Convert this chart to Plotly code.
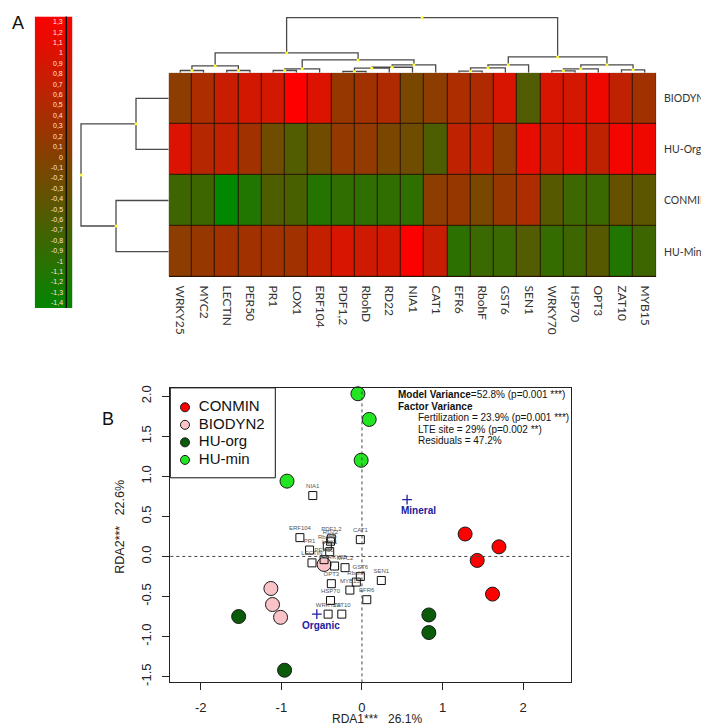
import plotly.graph_objects as go

W, H = 709, 726

# ---------------- Panel A data ----------------
genes = ["WRKY25", "MYC2", "LECTIN", "PER50", "PR1", "LOX1", "ERF104", "PDF1,2",
         "RbohD", "RD22", "NIA1", "CAT1", "EFR6", "RbohF", "GST6", "SEN1",
         "WRKY70", "HSP70", "OPT3", "ZAT10", "MYB15"]
treatments = ["BIODYN2", "HU-Org", "CONMIN", "HU-Min"]
z_biodyn2 = [0.10, 0.44, 0.77, 0.88, 0.88, 1.38, 0.99, 0.21, 0.33, 0.49, -0.12,
             0.10, 0.44, 0.49, 0.94, -0.56, 0.94, 0.88, 1.21, 0.66, 0.33]
z_huorg = [0.99, 0.55, 0.71, 0.33, -0.23, -0.56, -0.23, 0.16, 0.16, -0.12, -0.23,
           -0.62, 0.66, 0.71, 0.10, 1.10, 0.88, 1.10, 0.66, 1.27, 1.21]
z_conmin = [-0.78, -0.78, -1.45, -1.12, -0.62, -0.67, -1.06, -0.95, -0.95, -0.95, -0.95,
            0.10, 0.21, -0.12, 0.21, 0.44, -0.51, -0.80, -0.84, -0.34, -0.45]
z_humin = [0.10, 0.21, 0.33, 0.33, 0.33, 0.33, 0.71, 0.94, 0.83, 0.88, 1.38,
           0.77, -1.00, -0.84, -0.84, -0.56, -0.90, -0.78, -0.51, -1.12, -0.78]

# dendrograms: (left, right, merge height)
col_left = (("WRKY25", "MYC2", 2.3), ("LECTIN", "PER50", 2.3), 7.0)
col_mid_a = (("PR1", "LOX1", 2.3), "ERF104", 4.0)
col_mid_b = (((("PDF1,2", "RbohD", 1.3), "RD22", 4.6), "NIA1", 5.6), "CAT1", 8.0)
col_right_a = (((("EFR6", "RbohF", 1.6), "GST6", 5.0), "SEN1", 8.0))
col_right_b = ((("WRKY70", "HSP70", 2.0), "OPT3", 4.0), ("ZAT10", "MYB15", 3.0), 8.0)
col_tree = ((col_left, (col_mid_a, col_mid_b, 13.0), 20.0),
            (col_right_a, col_right_b, 16.0), 55.6)
row_tree = (("BIODYN2", "HU-Org", 32.7), ("CONMIN", "HU-Min", 52.7), 87.7)

cb_vals = [1.3, 1.2, 1.1, 1.0, 0.9, 0.8, 0.7, 0.6, 0.5, 0.4, 0.3, 0.2, 0.1, 0.0,
           -0.1, -0.2, -0.3, -0.4, -0.5, -0.6, -0.7, -0.8, -0.9, -1.0, -1.1, -1.2, -1.3, -1.4]
cb_text = ["1,3", "1,2", "1,1", "1", "0,9", "0,8", "0,7", "0,6", "0,5", "0,4", "0,3",
           "0,2", "0,1", "0", "-0,1", "-0,2", "-0,3", "-0,4", "-0,5", "-0,6", "-0,7",
           "-0,8", "-0,9", "-1", "-1,1", "-1,2", "-1,3", "-1,4"]

# ---------------- Panel B data ----------------
groups = ["CONMIN", "BIODYN2", "HU-org", "HU-min"]
group_colors = ["#ff0000", "#f9c3c8", "#0a5c0a", "#22e622"]
conmin_x = [1.28, 1.70, 1.43, 1.62]
conmin_y = [0.28, 0.12, -0.05, -0.47]
biodyn2_x = [-1.13, -1.11, -1.01, -0.47]
biodyn2_y = [-0.40, -0.60, -0.76, -0.10]
huorg_x = [0.83, 0.83, -1.53, -0.96]
huorg_y = [-0.73, -0.95, -0.75, -1.42]
humin_x = [-0.05, 0.09, -0.01, -0.93]
humin_y = [2.03, 1.71, 1.20, 0.94]

rda_genes = ["NIA1", "ERF104", "PDF1,2", "RD22", "RbohD", "CAT1", "PR1", "LOX1",
             "LECTIN", "PER50", "WRKY25", "MYC2", "GST6", "RbohF", "MYB15", "SEN1",
             "EFR6", "OPT3", "HSP70", "WRKY70", "ZAT10"]
rda_gene_x = [-0.61, -0.77, -0.38, -0.39, -0.43, -0.02, -0.65, -0.40, -0.62, -0.47, -0.34,
              -0.21, -0.02, -0.07, -0.15, 0.24, 0.06, -0.38, -0.39, -0.42, -0.25]
rda_gene_y = [0.76, 0.235, 0.22, 0.19, 0.13, 0.21, 0.08, 0.06, -0.08, -0.04, -0.12,
              -0.14, -0.25, -0.32, -0.42, -0.30, -0.54, -0.34, -0.55, -0.72, -0.72]
centroid_names = ["Mineral", "Organic"]
centroid_x = [0.56, -0.56]
centroid_y = [0.71, -0.72]

stats_lines = ["<b>Model Variance</b>=52.8% (p=0.001 ***)",
               "<b>Factor Variance</b>",
               "Fertilization = 23.9% (p=0.001 ***)",
               "LTE site = 29% (p=0.002 **)",
               "Residuals = 47.2%"]

# ---------------- helpers ----------------
def px_x(p):
    return p / W

def px_y(p):
    return 1 - p / H

def dendro(node, pos):
    xs, ys, merges = [], [], []
    def rec(n):
        if isinstance(n, str):
            return pos[n], 0.0
        left, right, h = n
        xl, hl = rec(left)
        xr, hr = rec(right)
        xs.extend([xl, xl, xr, xr, None])
        ys.extend([hl, h, h, hr, None])
        merges.append(((xl + xr) / 2, h))
        return (xl + xr) / 2, h
    rec(node)
    return xs, ys, merges

fig = go.Figure()

# heatmap
hm_x = [px_x(160.7), px_x(648.3)]
hm_y = [px_y(268.3), px_y(62.3)]
fig.add_trace(go.Heatmap(
    z=[z_biodyn2, z_huorg, z_conmin, z_humin],
    x=list(range(len(genes))), y=list(range(len(treatments))),
    colorscale=[[0, "rgb(0,135,0)"], [1, "rgb(255,0,0)"]],
    zmin=-1.48, zmax=1.386, showscale=False, xgap=1, ygap=1,
    hoverinfo="skip", xaxis="x", yaxis="y"))

# column dendrogram
cx, cy, cm = dendro(col_tree, {g: i for i, g in enumerate(genes)})
fig.add_trace(go.Scatter(x=cx, y=cy, mode="lines", line=dict(color="#4a4a4a", width=1.3),
                         xaxis="x2", yaxis="y2", showlegend=False, hoverinfo="skip"))
fig.add_trace(go.Scatter(x=[m[0] for m in cm], y=[m[1] for m in cm], mode="markers",
                         marker=dict(color="#ffff33", size=3), xaxis="x2", yaxis="y2",
                         showlegend=False, hoverinfo="skip"))

# row dendrogram (horizontal)
ry_, rx_, rm = dendro(row_tree, {t: i for i, t in enumerate(treatments)})
fig.add_trace(go.Scatter(x=rx_, y=ry_, mode="lines", line=dict(color="#4a4a4a", width=1.3),
                         xaxis="x3", yaxis="y3", showlegend=False, hoverinfo="skip"))
fig.add_trace(go.Scatter(x=[m[1] for m in rm], y=[m[0] for m in rm], mode="markers",
                         marker=dict(color="#ffff33", size=3), xaxis="x3", yaxis="y3",
                         showlegend=False, hoverinfo="skip"))

# colour key
fig.add_trace(go.Heatmap(
    z=[[v, v] for v in cb_vals], x=[0, 1], y=cb_vals,
    colorscale=[[0, "rgb(0,135,0)"], [1, "rgb(255,0,0)"]],
    zmin=-1.48, zmax=1.386, showscale=False, zsmooth="best",
    hoverinfo="skip", xaxis="x4", yaxis="y4"))

# ---------------- Panel B traces ----------------
series = [(conmin_x, conmin_y), (biodyn2_x, biodyn2_y), (huorg_x, huorg_y), (humin_x, humin_y)]
for name, col, (sx, sy) in zip(groups, group_colors, series):
    fig.add_trace(go.Scatter(x=sx, y=sy, mode="markers", xaxis="x5", yaxis="y5",
                             marker=dict(size=14, color=col, line=dict(color="#1a1a1a", width=1)),
                             showlegend=False, hoverinfo="skip", cliponaxis=False))
fig.add_trace(go.Scatter(x=rda_gene_x, y=rda_gene_y, mode="markers+text", text=rda_genes,
                         textposition="top center", textfont=dict(size=6, color="#555555",
                                                                  family="Liberation Sans"),
                         marker=dict(symbol="square-open", size=8, color="#111111",
                                     line=dict(width=1)),
                         xaxis="x5", yaxis="y5", showlegend=False, hoverinfo="skip"))
fig.add_trace(go.Scatter(x=centroid_x, y=centroid_y, mode="markers", xaxis="x5", yaxis="y5",
                         marker=dict(symbol="cross-thin", size=7, line=dict(color="#2020a0", width=1.3)),
                         showlegend=False, hoverinfo="skip"))

# manual legend box (own axes, one row per group)
leg_rows = list(range(len(groups)))
fig.add_trace(go.Scatter(x=[14.7] * len(groups), y=leg_rows, mode="markers", xaxis="x6", yaxis="y6",
                         marker=dict(size=9, color=group_colors, line=dict(color="#1a1a1a", width=1)),
                         showlegend=False, hoverinfo="skip"))
fig.add_trace(go.Scatter(x=[28.5] * len(groups), y=leg_rows, mode="text", text=groups,
                         textposition="middle right", xaxis="x6", yaxis="y6",
                         textfont=dict(size=15, color="#111", family="Liberation Sans"),
                         showlegend=False, hoverinfo="skip"))

annotations = []
for v, t in zip(cb_vals, cb_text):
    annotations.append(dict(x=1.1, y=v, xref="x4", yref="y4", text=t, showarrow=False,
                            xanchor="right", yanchor="middle",
                            font=dict(size=7, color="#ffe4e0", family="Liberation Sans")))
for i, t in enumerate(treatments):
    annotations.append(dict(x=px_x(653.5), y=i, xref="paper", yref="y", text=t, showarrow=False,
                            xanchor="left", yanchor="middle",
                            font=dict(family="Lato", size=10.5, color="#333333")))
for name, x0, y0 in zip(centroid_names, centroid_x, centroid_y):
    annotations.append(dict(x=x0, y=y0, xref="x5", yref="y5", text="<b>%s</b>" % name,
                            showarrow=False, xanchor="center", yanchor="middle",
                            xshift=11 if name == "Mineral" else 4, yshift=-11,
                            font=dict(size=10, color="#2020a0", family="Liberation Sans")))
stats_pos = [(388, 387), (388, 398.5), (408, 410), (408, 421.7), (408, 433.3)]
for t, (sx, sy) in zip(stats_lines, stats_pos):
    annotations.append(dict(x=px_x(sx), y=px_y(sy), xref="paper", yref="paper", text=t,
                            showarrow=False, xanchor="left", yanchor="middle",
                            font=dict(size=10, color="#111111", family="Liberation Sans")))
annotations += [
    dict(x=px_x(2), y=px_y(12), xref="paper", yref="paper", text="A", showarrow=False,
         xanchor="left", yanchor="middle", font=dict(size=18, color="#111", family="Liberation Sans")),
    dict(x=px_x(92), y=px_y(411), xref="paper", yref="paper", text="B", showarrow=False,
         xanchor="left", yanchor="middle", font=dict(size=18, color="#111", family="Liberation Sans")),
    dict(x=px_x(369), y=px_y(714), xref="paper", yref="paper", text="RDA1***   26.1%",
         showarrow=False, xanchor="center", yanchor="middle",
         font=dict(size=12, color="#222", family="Liberation Sans")),
    dict(x=px_x(112), y=px_y(520), xref="paper", yref="paper", text="RDA2***   22.6%",
         showarrow=False, xanchor="center", yanchor="middle", textangle=-90,
         font=dict(size=12.5, color="#222", family="Liberation Sans")),
]

shapes = [
    dict(type="rect", xref="x", yref="y", x0=-0.5, x1=len(genes) - 0.5, y0=-0.5,
         y1=len(treatments) - 0.5, fillcolor="#2a1400", line=dict(width=0), layer="below"),
    dict(type="line", xref="x4", yref="y4 domain", x0=1.18, x1=1.18, y0=0, y1=1,
         line=dict(color="#111", width=1.5)),
    dict(type="line", xref="x5", yref="y5 domain", x0=0, x1=0, y0=0, y1=1,
         line=dict(color="#444", width=1, dash="dot")),
    dict(type="line", xref="x5 domain", yref="y5", x0=0, x1=1, y0=0, y1=0,
         line=dict(color="#444", width=1, dash="dot")),
    dict(type="rect", xref="x6 domain", yref="y6 domain", x0=0, x1=1, y0=0, y1=1,
         line=dict(color="#111", width=1), fillcolor="rgba(0,0,0,0)"),
]

hidden = dict(showgrid=False, zeroline=False, showticklabels=False, ticks="", showline=False)
arial13 = dict(family="Liberation Sans", size=13, color="#222")
plot_top = 380.0

fig.update_layout(
    width=W, height=H, margin=dict(l=0, r=0, t=0, b=0),
    paper_bgcolor="white", plot_bgcolor="white",
    showlegend=False,
    xaxis=dict(domain=hm_x, range=[-0.5, len(genes) - 0.5], tickvals=list(range(len(genes))),
               ticktext=genes, tickangle=90, side="bottom", ticks="outside", ticklen=5,
               tickcolor="rgba(0,0,0,0)", showgrid=False, zeroline=False,
               tickfont=dict(family="Lato", size=12, color="#333333")),
    yaxis=dict(domain=hm_y, range=[len(treatments) - 0.5, -0.5], anchor="x", **hidden),
    xaxis2=dict(domain=hm_x, range=[-0.5, len(genes) - 0.5], anchor="y2", **hidden),
    yaxis2=dict(domain=[px_y(62.3), 1], range=[0, 62.3], anchor="x2", **hidden),
    xaxis3=dict(domain=[px_x(70), px_x(160.7)], range=[90.7, 0], anchor="y3", **hidden),
    yaxis3=dict(domain=hm_y, range=[len(treatments) - 0.5, -0.5], anchor="x3", **hidden),
    xaxis4=dict(domain=[px_x(26.7), px_x(64.3)], range=[-0.5, 1.5], anchor="y4", **hidden),
    yaxis4=dict(domain=[px_y(299.5), px_y(5.5)], range=[-1.45, 1.35], anchor="x4", **hidden),
    xaxis5=dict(domain=[px_x(162.3), px_x(562.7)], range=[-2.378, 2.590], anchor="y5",
                tickvals=[-2, -1, 0, 1, 2], ticktext=["-2", "-1", "0", "1", "2"],
                ticks="outside", ticklen=7, tickcolor="#222", showline=True, mirror=True,
                linecolor="#222", linewidth=1, showgrid=False, zeroline=False,
                tickfont=arial13, ticklabelstandoff=6),
    yaxis5=dict(domain=[px_y(677), px_y(plot_top)], range=[-1.572, (550 - plot_top) / 80.8],
                anchor="x5",
                tickvals=[-1.5, -1.0, -0.5, 0.0, 0.5, 1.0, 1.5, 2.0],
                ticktext=["-1.5", "-1.0", "-0.5", "0.0", "0.5", "1.0", "1.5", "2.0"],
                tickangle=-90, ticks="outside", ticklen=7, tickcolor="#222", showline=True,
                mirror=True, linecolor="#222", linewidth=1, showgrid=False, zeroline=False,
                tickfont=arial13, ticklabelstandoff=6),
    xaxis6=dict(domain=[px_x(162.3), px_x(267.3)], range=[0, 105], anchor="y6", **hidden),
    yaxis6=dict(domain=[px_y(470.7), px_y(plot_top)],
                range=[len(groups) - 1 + 1.02, -(470.7 - plot_top - 3 * 17.7 - 18) / 17.7],
                anchor="x6", **hidden),
    annotations=annotations, shapes=shapes,
)

fig.write_html("out.html")
